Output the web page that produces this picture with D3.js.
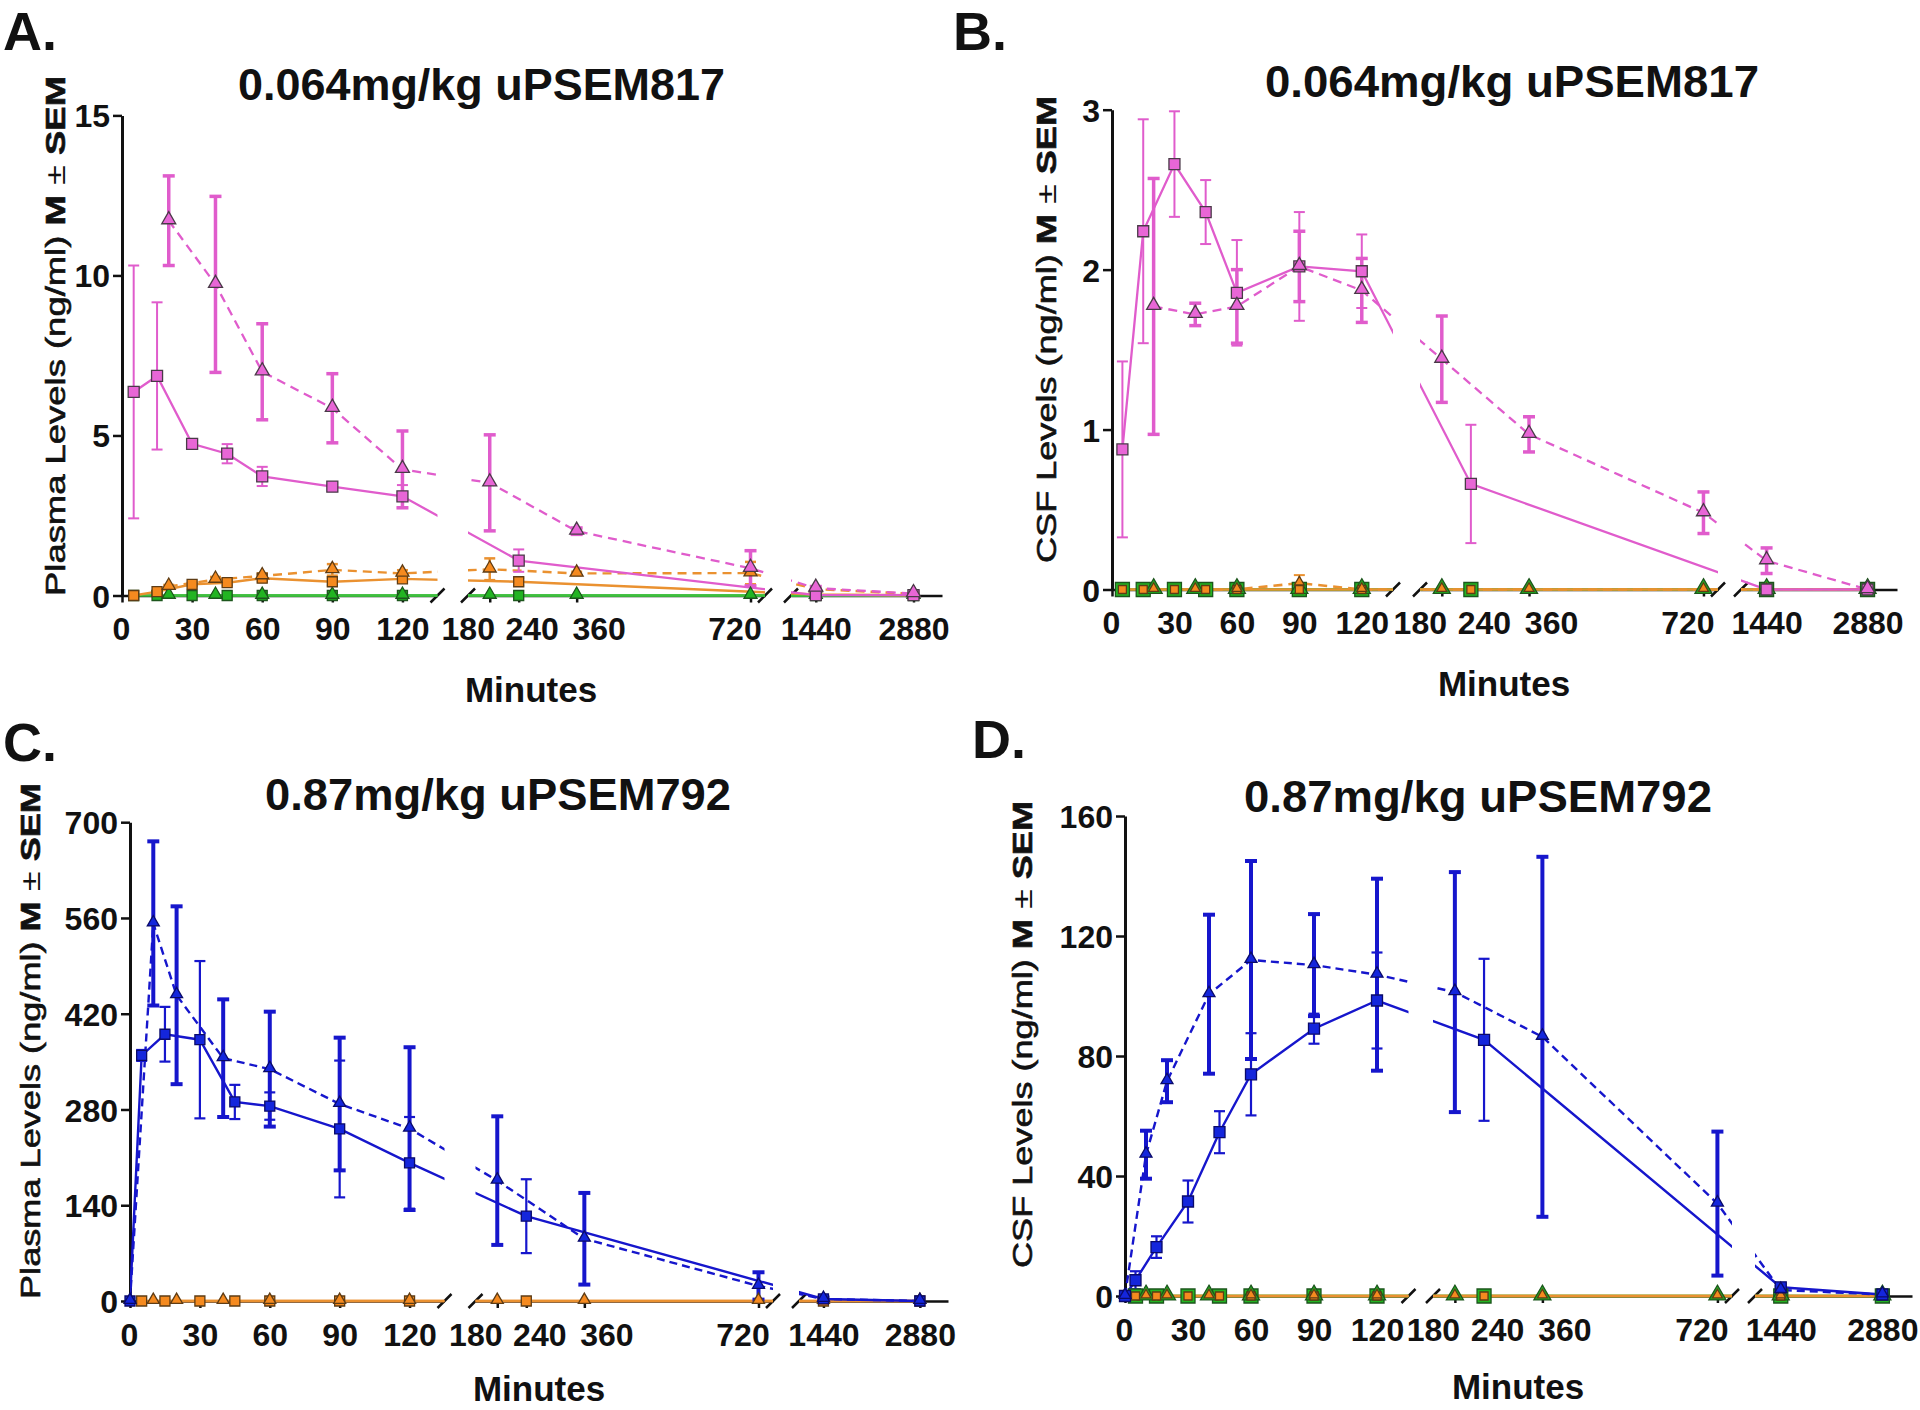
<!DOCTYPE html>
<html><head><meta charset="utf-8">
<script src="https://cdn.jsdelivr.net/npm/d3@7"></script>
<style>
html,body{margin:0;padding:0;background:#fff;}
svg{display:block;}
text{font-family:"Liberation Sans",Arial,Helvetica,sans-serif;}
</style></head><body>
<svg id="c" width="1920" height="1410"></svg>
<script>
// ================= DATA =================
// broken x axis: three segments (minutes)
const segDomains = [[0,135],[135,750],[1075,3300]];
const xTickValues = [[0,30,60,90,120],[180,240,360,720],[1440,2880]];
const xTickLabels = [["0","30","60","90","120"],["180","240","360","720"],["1440","2880"]];

const yTicksA = [0,5,10,15];
const yTicksB = [0,1,2,3];
const yTicksC = [0,140,280,420,560,700];
const yTicksD = [0,40,80,120,160];

// ---- Panel A : plasma, 0.064 mg/kg uPSEM817 ----
const aSqT  = [5,15,30,45,60,90,120,240,1440,2880];
const aTriT = [20,40,60,90,120,180,360,720,1440,2880];
const aPinkSq      = [6.36,6.86,4.74,4.43,3.72,3.40,3.10,1.09,0.01,0.01];
const aPinkSqErr   = [3.95,2.3,0.08,0.3,0.3,0.08,0.35,0.35,0,0];
const aPinkTri     = [11.71,9.72,6.99,5.85,3.94,3.52,2.01,0.85,0.23,0.06];
const aPinkTriErr  = [1.4,2.75,1.5,1.08,1.2,1.5,0.1,0.55,0.05,0];
const aOrangeSq    = [0,0.12,0.35,0.40,0.54,0.43,0.52,0.43,0.03,0.01];
const aOrangeSqErr = [0,0.03,0.05,0.08,0.1,0.12,0.08,0.12,0,0];
const aOrangeTri   = [0.28,0.5,0.61,0.8,0.69,0.82,0.69,0.7,0.2,0.05];
const aOrangeTriErr= [0.05,0.08,0.08,0.18,0.1,0.34,0.05,0.35,0.05,0];
const aGreenSq     = [0,0,0,0,0,0,0,0,0,0];
const aGreenTri    = [0,0,0,0,0,0,0,0,0,0];

// ---- Panel B : CSF, 0.064 mg/kg uPSEM817 ----
const bSqT  = [5,15,30,45,60,90,120,240,1440,2880];
const bTriT = [20,40,60,90,120,180,360,720,1440,2880];
const bPinkSq      = [0.876,2.24,2.66,2.36,1.855,2.02,1.99,0.66,0,0];
const bPinkSqErr   = [0.55,0.7,0.33,0.2,0.33,0.34,0.23,0.37,0,0];
const bPinkTri     = [1.77,1.72,1.77,2.02,1.87,1.44,0.97,0.48,0.18,0];
const bPinkTriErr  = [0.8,0.07,0.23,0.22,0.2,0.27,0.11,0.13,0.08,0];
const bOrangeSq    = [0,0,0,0,0,0,0,0,0,0];
const bOrangeTri   = [0,0,0,0.04,0,0,0,0,0,0];
const bOrangeTriErr= [0,0,0,0.05,0,0,0,0,0,0];
const bGreenSq     = [0,0,0,0,0,0,0,0,0,0];
const bGreenTri    = [0,0,0,0,0,0,0,0,0,0];

// ---- Panel C : plasma, 0.87 mg/kg uPSEM792 ----
const cSqT  = [0,5,15,30,45,60,90,120,240,1440,2880];
const cTriT = [0,10,20,40,60,90,120,180,360,720,1440,2880];
const cBlueSq      = [0,359,390,382,291,285,251.5,202,124,3,0];
const cBlueSqErr   = [0,8,40,115,25,20,100,67,54,3,0];
const cBlueTri     = [0,552,447,355,339,288,252,176,91,22,3,0];
const cBlueTriErr  = [0,120,130,86,84,97,119,94,67,20,2,0];
const cOrSqT  = [5,15,30,45,60,90,120,240,1440,2880];
const cOrTriT = [10,20,40,60,90,120,180,360,720,1440,2880];
const cOrangeSq    = [0,0,0,0,0,0,0,0,0,0];
const cOrangeTri   = [0,0,0,0,0,0,0,0,0,0,0];

// ---- Panel D : CSF, 0.87 mg/kg uPSEM792 ----
const dSqT  = [0,5,15,30,45,60,90,120,240,1440,2880];
const dTriT = [0,10,20,40,60,90,120,180,360,720,1440,2880];
const dBlueSq      = [0,5.25,16.3,31.5,54.6,73.9,89.1,98.5,85.4,2.9,0.5];
const dBlueSqErr   = [0,3,3.6,7,7,13.7,5,16,27,1,0];
const dBlueTri     = [0,47.1,71.6,100.6,112,110.3,107.1,101.3,86.4,30.8,2,0.5];
const dBlueTriErr  = [0,8,7,26.5,33,17,32,40,60,24,1,0];
const dOrSqT  = [5,15,30,45,60,90,120,240,1440,2880];
const dOrTriT = [10,20,40,60,90,120,180,360,720,1440,2880];
const dOrangeSq    = [0,0,0,0,0,0,0,0,0,0];
const dOrangeTri   = [0,0,0,0,0,0,0,0,0,0,0];
const dGreenSq     = [0,0,0,0,0,0,0,0,0,0];
const dGreenTri    = [0,0,0,0,0,0,0,0,0,0,0];

// ================= STYLE / LAYOUT =================
const COL = {
  pink:   {line:"#e05ccc", fill:"#e866d6", stroke:"#4a3a48"},
  blue:   {line:"#1616cc", fill:"#1426dc", stroke:"#0a0a6a"},
  orange: {line:"#ea9130", fill:"#f58a1f", stroke:"#5e3c14"},
  green:  {line:"#3fc03f", fill:"#22b422", stroke:"#1c561c"}
};
const labelNudge = [[-1,0,0,0,0],[-22,13,22,-16],[0,0]];

const svg = d3.select("#c");
const defs = svg.append("defs");

function drawPanel(cfg, series) {
  const g = svg.append("g");
  const y = d3.scaleLinear().domain([0, cfg.ymax]).range([cfg.y0, cfg.yTop]);
  const xs = segDomains.map((d,i) => d3.scaleLinear().domain(d).range(cfg.segs[i]));
  const segIndex = t => t <= segDomains[0][1] ? 0 : (t <= segDomains[1][1] ? 1 : 2);
  const xPos = t => xs[segIndex(t)](t);

  // y axis
  const ya = g.append("g").attr("transform", `translate(${cfg.left},0)`)
    .call(d3.axisLeft(y).tickValues(cfg.yTicks).tickFormat(d3.format("d"))
      .tickSize(9).tickSizeOuter(0).tickPadding(3));
  ya.selectAll(".tick text").attr("font-size", 32).attr("font-weight", "bold").attr("fill", "#111")
    .attr("font-family", '"Liberation Sans",Arial,sans-serif').attr("dy", "0.36em");
  ya.selectAll(".tick line").attr("stroke", "#111").attr("stroke-width", 2.5);
  ya.select(".domain").attr("stroke", "#111").attr("stroke-width", 3);

  // x axis segments
  xs.forEach((sc, i) => {
    const ax = g.append("g").attr("transform", `translate(0,${cfg.y0})`)
      .call(d3.axisBottom(sc).tickValues(xTickValues[i])
        .tickFormat((d, j) => xTickLabels[i][j]).tickSize(7).tickSizeOuter(0));
    ax.selectAll(".tick text").attr("font-size", 32).attr("font-weight", "bold").attr("fill", "#111")
      .attr("font-family", '"Liberation Sans",Arial,sans-serif')
      .attr("y", 44.5).attr("dy", 0).attr("x", (d, j) => labelNudge[i][j]);
    ax.selectAll(".tick line").attr("stroke", "#111").attr("stroke-width", 2.5);
    ax.select(".domain").attr("stroke", "#111").attr("stroke-width", 2.5);
  });
  // break marks
  const brk = [];
  cfg.segs.forEach((r, i) => {
    if (i > 0) brk.push(r[0]);
    if (i < cfg.segs.length - 1) brk.push(r[1]);
  });
  g.selectAll(".brk").data(brk).join("line")
    .attr("x1", d => d - 7).attr("x2", d => d + 7)
    .attr("y1", cfg.y0 + 7).attr("y2", cfg.y0 - 7)
    .attr("stroke", "#111").attr("stroke-width", 2.5);

  // clip for lines (gaps between segments)
  const cp = defs.append("clipPath").attr("id", "clip" + cfg.key);
  cfg.segs.forEach(r => cp.append("rect").attr("x", r[0]).attr("y", cfg.yTop - 80)
    .attr("width", r[1] - r[0]).attr("height", cfg.y0 - cfg.yTop + 100));

  const line = d3.line().x(d => xPos(d[0])).y(d => y(d[1]));

  series.forEach(s => {
    const c = COL[s.col];
    const pts = s.t.map((t, i) => [t, s.v[i], s.e ? s.e[i] : 0]);
    g.append("path").datum(pts).attr("d", line)
      .attr("fill", "none").attr("stroke", c.line).attr("stroke-width", s.lw || 2.3)
      .attr("stroke-dasharray", s.dash ? s.dash : null)
      .attr("clip-path", `url(#clip${cfg.key})`);
  });
  series.forEach(s => {
    const c = COL[s.col];
    const pts = s.t.map((t, i) => [t, s.v[i], s.e ? s.e[i] : 0]).filter(p => p[2] > 0);
    const eg = g.append("g").attr("stroke", c.line).attr("stroke-width", s.ew || 2);
    pts.forEach(p => {
      const x = xPos(p[0]), y1 = y(p[1] + p[2]), y2 = y(Math.max(0, p[1] - p[2]));
      eg.append("line").attr("x1", x).attr("x2", x).attr("y1", y1).attr("y2", y2);
      eg.append("line").attr("x1", x - s.cap/2).attr("x2", x + s.cap/2).attr("y1", y1).attr("y2", y1);
      if (p[1] - p[2] > 0)
        eg.append("line").attr("x1", x - s.cap/2).attr("x2", x + s.cap/2).attr("y1", y2).attr("y2", y2);
    });
  });
  series.forEach(s => {
    const c = COL[s.col];
    const pts = s.t.map((t, i) => [t, s.v[i]]);
    const area = s.shape === "sq" ? s.size * s.size : 0.433 * s.size * s.size;
    const sym = d3.symbol().type(s.shape === "sq" ? d3.symbolSquare : d3.symbolTriangle).size(area);
    g.append("g").selectAll("path").data(pts).join("path")
      .attr("d", sym)
      .attr("transform", d => `translate(${xPos(d[0])},${y(d[1]) + (s.shape === "sq" ? 0 : -1)})`)
      .attr("fill", c.fill).attr("stroke", c.stroke).attr("stroke-width", s.sw || 1.3);
  });

  // texts
  svg.append("text").attr("x", cfg.letter[0]).attr("y", cfg.letter[1])
    .attr("font-size", 54).attr("font-weight", "bold").attr("fill", "#111").text(cfg.key + ".");
  svg.append("text").attr("x", cfg.title[0]).attr("y", cfg.title[1])
    .attr("text-anchor", "middle").attr("font-size", 44).attr("font-weight", "bold").attr("fill", "#111")
    .attr("textLength", cfg.title[2]).attr("lengthAdjust", "spacingAndGlyphs").text(cfg.titleText);
  svg.append("text").attr("x", cfg.xlab[0]).attr("y", cfg.xlab[1])
    .attr("text-anchor", "middle").attr("font-size", 35).attr("font-weight", "bold").attr("fill", "#111")
    .text("Minutes");
  const yl = svg.append("text")
    .attr("transform", `translate(${cfg.ylab[0]},${cfg.ylab[1]}) rotate(-90)`)
    .attr("text-anchor", "middle").attr("font-size", 28).attr("fill", "#111")
    .attr("stroke", "#111").attr("stroke-width", 0.6)
    .attr("textLength", cfg.ylab[2]).attr("lengthAdjust", "spacingAndGlyphs");
  yl.append("tspan").text(cfg.yLabelText + " ");
  yl.append("tspan").attr("font-weight", "bold").text("M");
  yl.append("tspan").attr("stroke-width", 0).text(" \u00b1 ");
  yl.append("tspan").attr("font-weight", "bold").text("SEM");
}

// series helper (style keys only)
const S = (t, v, e, shape, col, dash, size, extra) =>
  Object.assign({t, v, e, shape, col, dash, size, cap: 11, ew: 2}, extra || {});
const DASH = "9,6";

drawPanel({key:"A", left:122, y0:595.5, yTop:115.4, ymax:15, yTicks:yTicksA,
  segs:[[122,437.5],[468,765],[791,942]],
  letter:[3,50], title:[481.5,100,487], titleText:"0.064mg/kg uPSEM817",
  xlab:[531,702], ylab:[65,336,520], yLabelText:"Plasma Levels (ng/ml)"}, [
  S(aSqT, aGreenSq, null, "sq", "green", null, 10, {lw:2.6}),
  S(aTriT, aGreenTri, null, "tri", "green", null, 13, {lw:2.6}),
  S(aSqT, aOrangeSq, aOrangeSqErr, "sq", "orange", null, 10, {lw:2.4}),
  S(aTriT, aOrangeTri, aOrangeTriErr, "tri", "orange", DASH, 13, {lw:2.4, ew:2.5}),
  S(aSqT, aPinkSq, aPinkSqErr, "sq", "pink", null, 11, {ew:2}),
  S(aTriT, aPinkTri, aPinkTriErr, "tri", "pink", DASH, 14, {ew:3.5, cap:12})
]);

drawPanel({key:"B", left:1112, y0:589.5, yTop:109.7, ymax:3, yTicks:yTicksB,
  segs:[[1112,1393],[1420,1718],[1741,1897]],
  letter:[953,50], title:[1512,97,494], titleText:"0.064mg/kg uPSEM817",
  xlab:[1504,695.5], ylab:[1056,329.5,467], yLabelText:"CSF Levels (ng/ml)"}, [
  S(bSqT, bGreenSq, null, "sq", "green", null, 14),
  S(bTriT, bGreenTri, null, "tri", "green", null, 17),
  S(bSqT, bOrangeSq, null, "sq", "orange", null, 8, {lw:2.6}),
  S(bTriT, bOrangeTri, bOrangeTriErr, "tri", "orange", DASH, 10, {lw:2.6}),
  S(bSqT, bPinkSq, bPinkSqErr, "sq", "pink", null, 11, {ew:2}),
  S(bTriT, bPinkTri, bPinkTriErr, "tri", "pink", DASH, 14, {ew:3.5, cap:12})
]);

drawPanel({key:"C", left:130, y0:1301, yTop:822.2, ymax:700, yTicks:yTicksC,
  segs:[[130,444.5],[475.5,773],[799,948]],
  letter:[3,761], title:[498,810,466], titleText:"0.87mg/kg uPSEM792",
  xlab:[539,1401], ylab:[39.5,1041,516], yLabelText:"Plasma Levels (ng/ml)"}, [
  S(cOrSqT, cOrangeSq, null, "sq", "orange", null, 10, {lw:2.6}),
  S(cOrTriT, cOrangeTri, null, "tri", "orange", null, 12, {lw:2.6}),
  S(cSqT, cBlueSq, cBlueSqErr, "sq", "blue", null, 10, {ew:2.2, lw:2.4}),
  S(cTriT, cBlueTri, cBlueTriErr, "tri", "blue", "8,5", 12, {ew:4, cap:12, lw:2.4})
]);

drawPanel({key:"D", left:1125, y0:1296, yTop:816, ymax:160, yTicks:yTicksD,
  segs:[[1125,1408.5],[1433,1732],[1755,1912]],
  letter:[972,758], title:[1478,812,468], titleText:"0.87mg/kg uPSEM792",
  xlab:[1518,1399], ylab:[1032,1034.5,467], yLabelText:"CSF Levels (ng/ml)"}, [
  S(dOrSqT, dGreenSq, null, "sq", "green", null, 14),
  S(dOrTriT, dGreenTri, null, "tri", "green", null, 17),
  S(dOrSqT, dOrangeSq, null, "sq", "orange", null, 8, {lw:2.6}),
  S(dOrTriT, dOrangeTri, null, "tri", "orange", null, 10, {lw:2.6}),
  S(dSqT, dBlueSq, dBlueSqErr, "sq", "blue", null, 11, {ew:2.2, lw:2.4}),
  S(dTriT, dBlueTri, dBlueTriErr, "tri", "blue", "8,5", 12, {ew:4, cap:12, lw:2.4})
]);
</script>
</body></html>
